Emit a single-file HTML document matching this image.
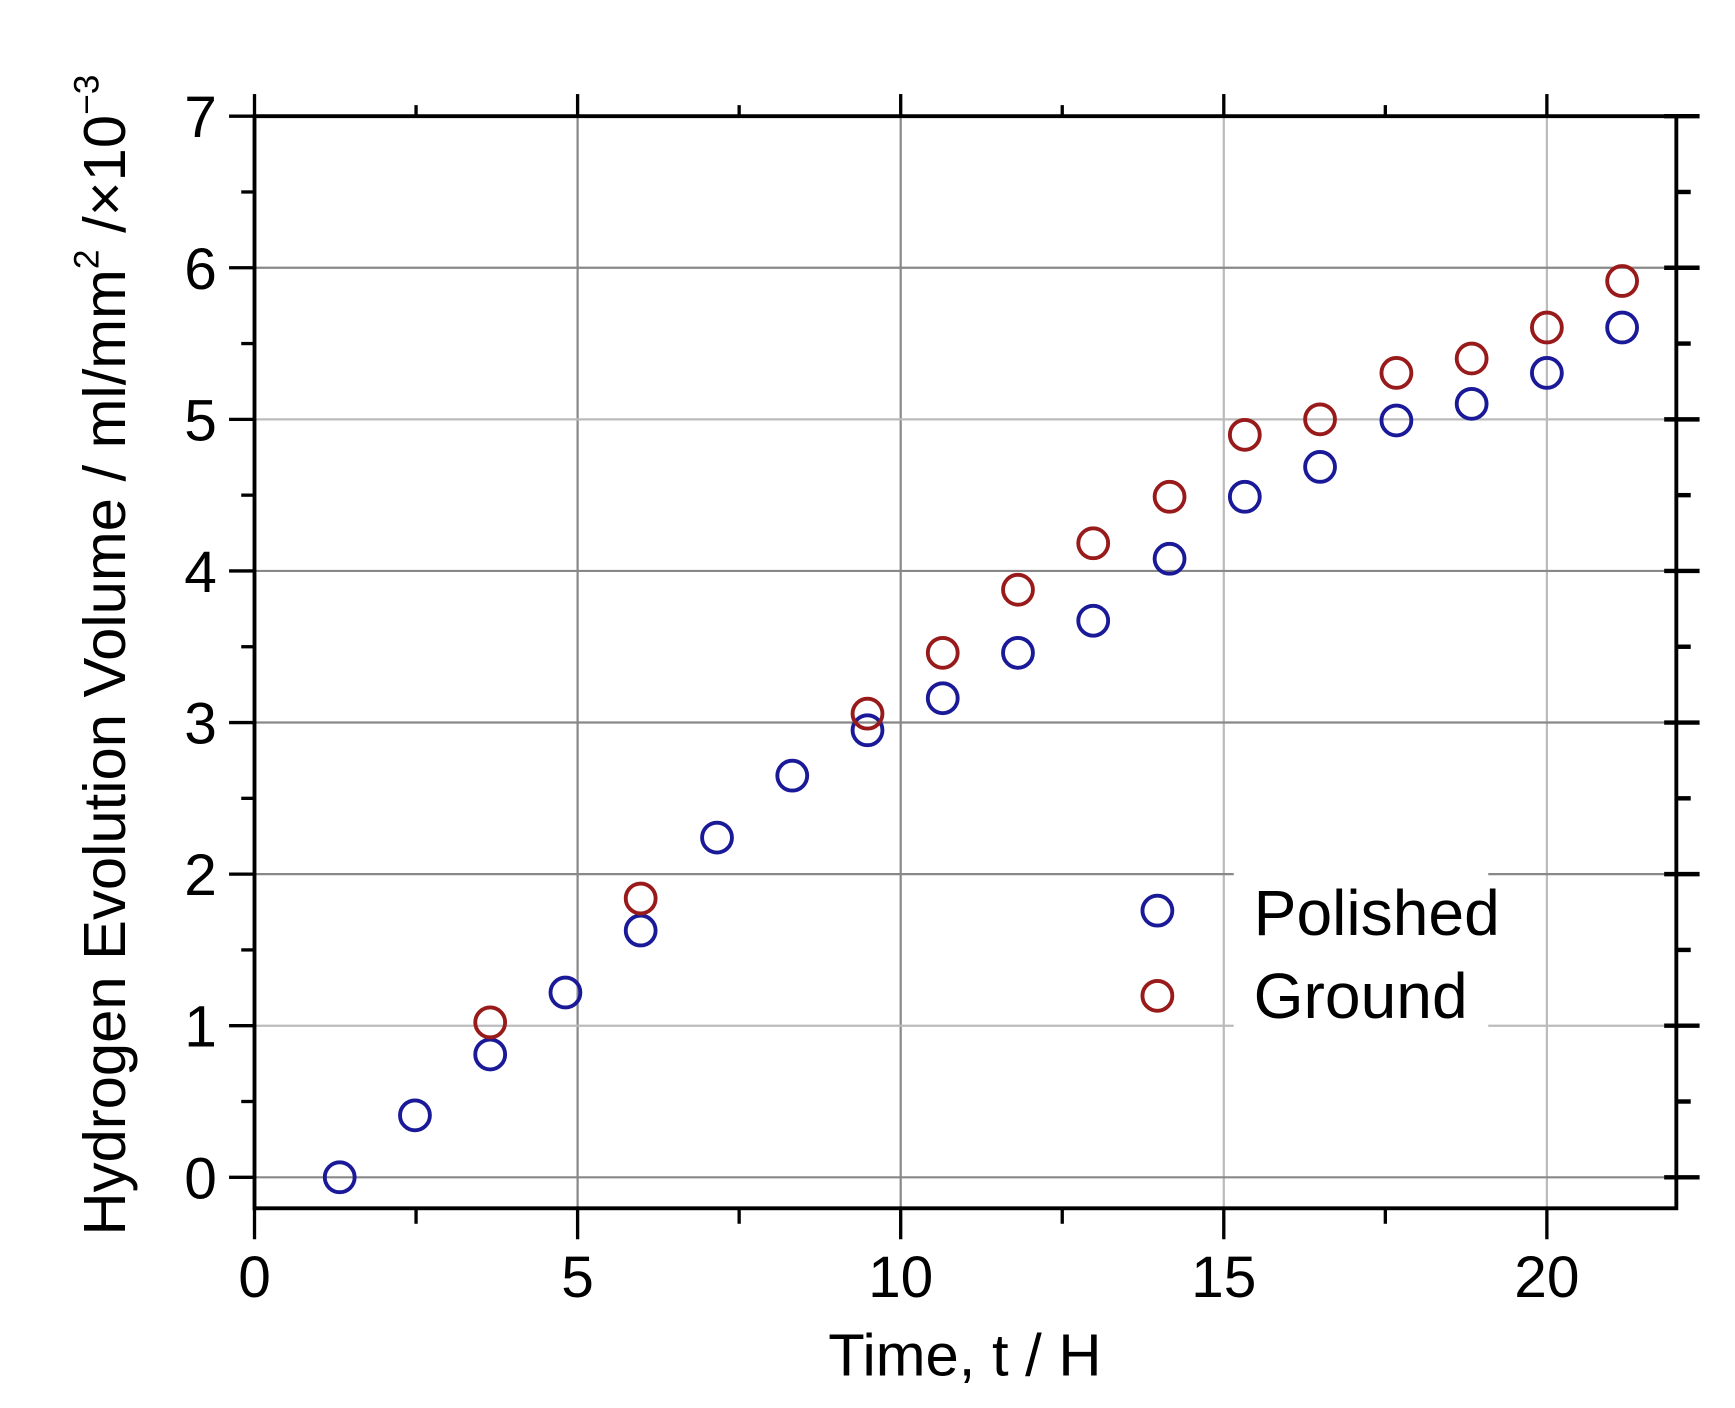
<!DOCTYPE html>
<html><head><meta charset="utf-8"><style>html,body{margin:0;padding:0;background:#fff}svg{display:block}</style></head>
<body>
<svg width="1735" height="1408" viewBox="0 0 1568 1272.5" xmlns="http://www.w3.org/2000/svg" font-family="Liberation Sans, Arial, sans-serif">
<rect width="1568" height="1272.5" fill="#fff"/>
<g stroke="#888" stroke-width="2">
<line x1="522" y1="105" x2="522" y2="1092"/>
<line x1="814" y1="105" x2="814" y2="1092"/>
<line x1="1106" y1="105" x2="1106" y2="1092" stroke="#bbb"/>
<line x1="1398" y1="105" x2="1398" y2="1092" stroke="#bbb"/>
<line x1="230" y1="1064" x2="1515" y2="1064"/>
<line x1="230" y1="927" x2="1515" y2="927" stroke="#bbb"/>
<line x1="230" y1="790" x2="1515" y2="790"/>
<line x1="230" y1="653" x2="1515" y2="653"/>
<line x1="230" y1="516" x2="1515" y2="516"/>
<line x1="230" y1="379" x2="1515" y2="379" stroke="#bbb"/>
<line x1="230" y1="242" x2="1515" y2="242"/>
</g>
<rect x="1115" y="788" width="230" height="142" fill="#fff"/>
<g stroke="#000" stroke-width="3.5" fill="none">
<rect x="230" y="105" width="1285" height="987"/>
</g>
<g stroke="#000" stroke-width="3">
<line x1="230" y1="1092" x2="230" y2="1120"/><line x1="376" y1="1092" x2="376" y2="1106"/>
<line x1="522" y1="1092" x2="522" y2="1120"/><line x1="668" y1="1092" x2="668" y2="1106"/>
<line x1="814" y1="1092" x2="814" y2="1120"/><line x1="960" y1="1092" x2="960" y2="1106"/>
<line x1="1106" y1="1092" x2="1106" y2="1120"/><line x1="1252" y1="1092" x2="1252" y2="1106"/>
<line x1="1398" y1="1092" x2="1398" y2="1120"/>
<line x1="230" y1="105" x2="230" y2="85"/><line x1="376" y1="105" x2="376" y2="95"/>
<line x1="522" y1="105" x2="522" y2="85"/><line x1="668" y1="105" x2="668" y2="95"/>
<line x1="814" y1="105" x2="814" y2="85"/><line x1="960" y1="105" x2="960" y2="95"/>
<line x1="1106" y1="105" x2="1106" y2="85"/><line x1="1252" y1="105" x2="1252" y2="95"/>
<line x1="1398" y1="105" x2="1398" y2="85"/>
<g>
<line x1="207" y1="1064" x2="230" y2="1064"/><line x1="207" y1="927" x2="230" y2="927"/>
<line x1="207" y1="790" x2="230" y2="790"/><line x1="207" y1="653" x2="230" y2="653"/>
<line x1="207" y1="516" x2="230" y2="516"/><line x1="207" y1="379" x2="230" y2="379"/>
<line x1="207" y1="242" x2="230" y2="242"/><line x1="207" y1="105" x2="230" y2="105"/>
<line x1="218" y1="995.5" x2="230" y2="995.5"/><line x1="218" y1="858.5" x2="230" y2="858.5"/>
<line x1="218" y1="721.5" x2="230" y2="721.5"/><line x1="218" y1="584.5" x2="230" y2="584.5"/>
<line x1="218" y1="447.5" x2="230" y2="447.5"/><line x1="218" y1="310.5" x2="230" y2="310.5"/>
<line x1="218" y1="173.5" x2="230" y2="173.5"/>
</g>
<g stroke-width="4">
<line x1="1504" y1="1064" x2="1536" y2="1064"/><line x1="1504" y1="927" x2="1536" y2="927"/>
<line x1="1504" y1="790" x2="1536" y2="790"/><line x1="1504" y1="653" x2="1536" y2="653"/>
<line x1="1504" y1="516" x2="1536" y2="516"/><line x1="1504" y1="379" x2="1536" y2="379"/>
<line x1="1504" y1="242" x2="1536" y2="242"/><line x1="1504" y1="105" x2="1536" y2="105"/>
<line x1="1515" y1="995.5" x2="1528" y2="995.5"/><line x1="1515" y1="858.5" x2="1528" y2="858.5"/>
<line x1="1515" y1="721.5" x2="1528" y2="721.5"/><line x1="1515" y1="584.5" x2="1528" y2="584.5"/>
<line x1="1515" y1="447.5" x2="1528" y2="447.5"/><line x1="1515" y1="310.5" x2="1528" y2="310.5"/>
<line x1="1515" y1="173.5" x2="1528" y2="173.5"/>
</g>
</g>
<g font-size="53" fill="#000" text-anchor="middle">
<text x="230" y="1172">0</text><text x="522" y="1172">5</text><text x="814" y="1172">10</text>
<text x="1106" y="1172">15</text><text x="1398" y="1172">20</text>
</g>
<g font-size="53" fill="#000" text-anchor="end">
<text x="196" y="1083">0</text><text x="196" y="946">1</text><text x="196" y="809">2</text>
<text x="196" y="672">3</text><text x="196" y="535">4</text><text x="196" y="398">5</text>
<text x="196" y="261">6</text><text x="196" y="124">7</text>
</g>
<text x="872" y="1243" font-size="54" text-anchor="middle">Time, t / H</text>
<text transform="translate(113,592) rotate(-90)" font-size="54" text-anchor="middle">Hydrogen Evolution Volume / ml/mm<tspan font-size="32" dy="-24">2</tspan><tspan dy="24"> /×10</tspan><tspan font-size="32" dy="-24">−3</tspan></text>
<g fill="none" stroke="#1a1a99" stroke-width="3.5">
<circle cx="307" cy="1064" r="13.5"/><circle cx="375" cy="1008" r="13.5"/><circle cx="443" cy="953" r="13.5"/>
<circle cx="511" cy="897" r="13.5"/><circle cx="579" cy="841" r="13.5"/><circle cx="648" cy="757" r="13.5"/>
<circle cx="716" cy="701" r="13.5"/><circle cx="784" cy="660" r="13.5"/><circle cx="852" cy="631" r="13.5"/>
<circle cx="920" cy="590" r="13.5"/><circle cx="988" cy="561" r="13.5"/><circle cx="1057" cy="505" r="13.5"/>
<circle cx="1125" cy="449" r="13.5"/><circle cx="1193" cy="422" r="13.5"/><circle cx="1262" cy="380" r="13.5"/>
<circle cx="1330" cy="365" r="13.5"/><circle cx="1398" cy="337" r="13.5"/><circle cx="1466" cy="296" r="13.5"/>
<circle cx="1046" cy="823" r="13.5"/>
</g>
<g fill="none" stroke="#991a1a" stroke-width="3.5">
<circle cx="443" cy="924" r="13.5"/><circle cx="579" cy="812" r="13.5"/><circle cx="784" cy="645" r="13.5"/>
<circle cx="852" cy="590" r="13.5"/><circle cx="920" cy="533" r="13.5"/><circle cx="988" cy="491" r="13.5"/>
<circle cx="1057" cy="449" r="13.5"/><circle cx="1125" cy="393" r="13.5"/><circle cx="1193" cy="379" r="13.5"/>
<circle cx="1262" cy="337" r="13.5"/><circle cx="1330" cy="324" r="13.5"/><circle cx="1398" cy="296" r="13.5"/>
<circle cx="1466" cy="254" r="13.5"/>
<circle cx="1046" cy="900" r="13.5"/>
</g>
<g font-size="58" fill="#000">
<text x="1133" y="845">Polished</text>
<text x="1133" y="920">Ground</text>
</g>
</svg>
</body></html>
